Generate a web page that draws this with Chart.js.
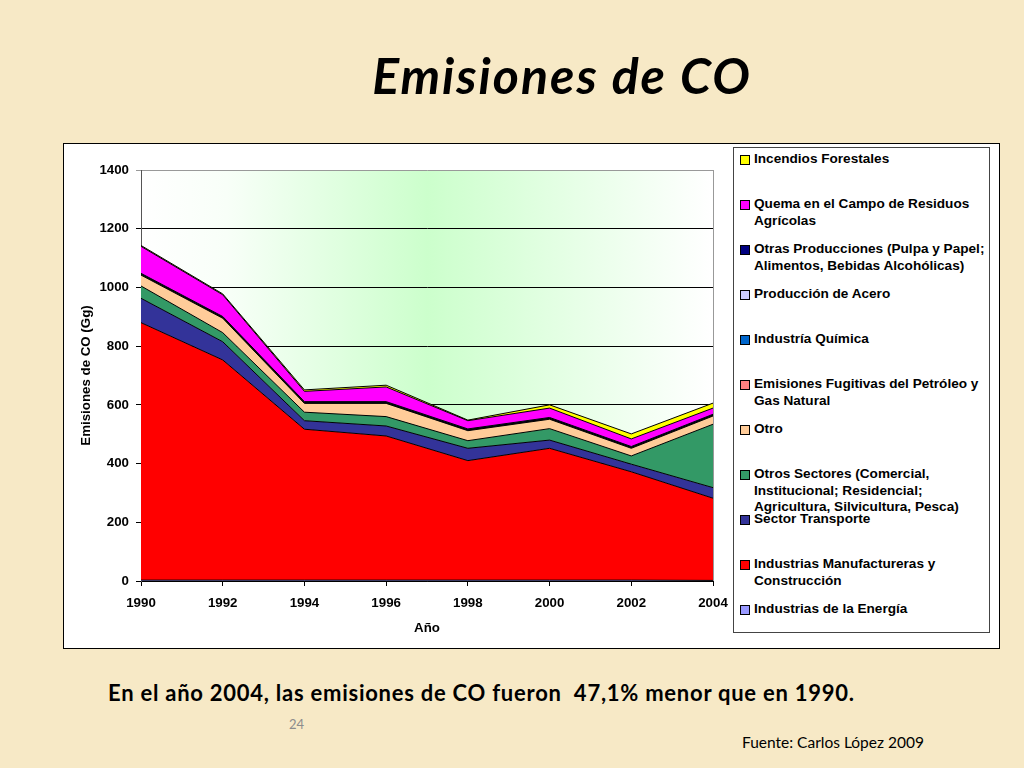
<!DOCTYPE html>
<html>
<head>
<meta charset="utf-8">
<script src="https://cdn.jsdelivr.net/npm/chart.js@4/dist/chart.umd.min.js"></script>
<style>
    body { margin:0; width:1024px; height:768px; overflow:hidden; background:#f7e9c6; position:relative; font-family:"Liberation Sans", Arial, sans-serif; }
    #title { position:absolute; left:0; width:1124px; top:45px; text-align:center; font-family:Lato, sans-serif; font-weight:bold; font-style:italic; font-size:50px; letter-spacing:2px; color:#000; }
    #box { position:absolute; left:63px; top:143px; width:935px; height:504px; border:1px solid #000; background:#fff; }
    #stats { position:absolute; left:0; top:0; }
    #legend { position:absolute; left:669px; top:3px; width:257px; height:486px; border:1px solid #444; background:#fff; box-sizing:border-box; }
    .item { position:absolute; left:6px; font-weight:bold; font-size:13.6px; line-height:16.5px; white-space:pre-line; color:#000; }
    .item i { position:absolute; left:0; top:4px; width:8px; height:8px; border:1px solid #000; }
    .item span { display:block; margin-left:14px; }
    #note { position:absolute; left:108px; top:679px; font-family:Lato, sans-serif; font-weight:bold; font-size:22px; letter-spacing:0.75px; color:#000; white-space:nowrap; }
    #page { position:absolute; left:289px; top:716px; font-family:Lato, sans-serif; font-size:13px; color:#8c8c8c; }
    #src { position:absolute; left:742px; top:733px; font-family:Lato, sans-serif; font-size:15.5px; color:#000; }
</style>
</head>
<body>
<div id="title">Emisiones de CO</div>
<div id="box">
    <canvas id="stats" width="935" height="504"></canvas>
    <div id="legend"></div>
</div>
<div id="note">En el año 2004, las emisiones de CO fueron&nbsp; 47,1% menor que en 1990.</div>
<div id="page">24</div>
<div id="src">Fuente: Carlos López 2009</div>
<script>
// valores en Gg, de abajo hacia arriba en la pila
const years = ['1990', '1992', '1994', '1996', '1998', '2000', '2002', '2004'];
const energia = [3, 3, 3, 3, 3, 3, 3, 2];
const manufactureras = [877, 750, 514, 491, 407, 449, 369, 280];
const transporte = [83, 62, 29, 34, 42, 28, 26, 36];
const otrosSectores = [42, 31, 29, 32, 26, 39, 28, 216];
const otro = [37, 49, 30, 45, 34, 32, 26, 28];
const fugitivas = [1, 1, 1, 1, 1, 1, 1, 1];
const quimica = [1, 1, 1, 1, 1, 1, 1, 1];
const acero = [0, 0, 0, 0, 0, 0, 0, 0];
const otrasProducciones = [4, 4, 4, 4, 4, 4, 4, 4];
const quema = [92, 74, 35, 50, 28, 32, 26, 21];
const incendios = [3, 3, 5, 6, 2, 11, 17, 17];
const yTicks = [0, 200, 400, 600, 800, 1000, 1200, 1400];

const series = [
    {label: 'Industrias de la Energía', color: '#9999ff', data: energia},
    {label: 'Industrias Manufactureras y\nConstrucción', color: '#ff0000', data: manufactureras},
    {label: 'Sector Transporte', color: '#333399', data: transporte},
    {label: 'Otros Sectores (Comercial,\nInstitucional; Residencial;\nAgricultura, Silvicultura, Pesca)', color: '#339966', data: otrosSectores},
    {label: 'Otro', color: '#ffcc99', data: otro},
    {label: 'Emisiones Fugitivas del Petróleo y\nGas Natural', color: '#ff8080', data: fugitivas},
    {label: 'Industría Química', color: '#0066cc', data: quimica},
    {label: 'Producción de Acero', color: '#ccccff', data: acero},
    {label: 'Otras Producciones (Pulpa y Papel;\nAlimentos, Bebidas Alcohólicas)', color: '#000080', data: otrasProducciones},
    {label: 'Quema en el Campo de Residuos\nAgrícolas', color: '#ff00ff', data: quema},
    {label: 'Incendios Forestales', color: '#ffff00', data: incendios}
];

// fondo degradado del área de trazado
const plotBg = {
    id: 'plotBg',
    beforeDraw(chart) {
        const {ctx, chartArea: a} = chart;
        const g = ctx.createLinearGradient(a.left, 0, a.right, 0);
        g.addColorStop(0, '#ffffff');
        g.addColorStop(0.15, '#f8fff8');
        g.addColorStop(0.5, '#ccffcc');
        g.addColorStop(0.85, '#f0fff0');
        g.addColorStop(1, '#ffffff');
        ctx.save();
        ctx.fillStyle = g;
        ctx.fillRect(a.left, a.top, a.right - a.left, a.bottom - a.top);
        ctx.strokeStyle = '#999';
        ctx.lineWidth = 1;
        ctx.beginPath();
        ctx.moveTo(a.right + 0.5, a.top);
        ctx.lineTo(a.right + 0.5, a.bottom);
        ctx.stroke();
        ctx.restore();
    }
};

const tickFont = {family: '"Liberation Sans", Arial, sans-serif', size: 13.3, weight: 'bold'};

const chart = new Chart(document.getElementById('stats'), {
    type: 'line',
    data: {
        labels: years,
        datasets: series.map((s, i) => ({
            label: s.label,
            data: s.data,
            backgroundColor: s.color,
            borderColor: '#000',
            borderWidth: 1,
            pointRadius: 0,
            tension: 0,
            fill: i == 0 ? 'origin' : '-1'
        }))
    },
    options: {
        responsive: false,
        animation: false,
        layout: {padding: {top: 26, right: 286, left: 0, bottom: 0}},
        plugins: {legend: {display: false}, tooltip: {enabled: false}},
        scales: {
            x: {
                offset: false,
                grid: {drawOnChartArea: false, drawTicks: true, tickLength: 5, color: '#000'},
                border: {color: '#000'},
                ticks: {color: '#000', font: tickFont, padding: 9, maxRotation: 0},
                title: {display: true, text: 'Año', color: '#000', font: tickFont, padding: {top: 4, bottom: 12}},
                afterFit: s => { s.height = 67; }
            },
            y: {
                stacked: true,
                min: 0,
                max: 1400,
                afterBuildTicks: s => { s.ticks = yTicks.map(v => ({value: v})); },
                grid: {color: c => c.tick && c.tick.value == 1400 ? '#999' : '#000', tickLength: 5},
                border: {color: '#555'},
                ticks: {color: '#000', font: tickFont, padding: 7, callback: v => String(v)},
                title: {display: true, text: 'Emisiones de CO (Gg)', color: '#000', font: tickFont, padding: {top: 14, bottom: 4}},
                afterFit: s => { s.width = 77; }
            }
        }
    },
    plugins: [plotBg]
});

// leyenda: de arriba a abajo, igual que la pila
const legend = document.getElementById('legend');
chart.data.datasets.slice().reverse().forEach((ds, i) => {
    const el = document.createElement('div');
    el.className = 'item';
    el.style.top = (3 + i * 45) + 'px';
    const sw = document.createElement('i');
    sw.style.background = ds.backgroundColor;
    const tx = document.createElement('span');
    tx.textContent = ds.label;
    el.appendChild(sw);
    el.appendChild(tx);
    legend.appendChild(el);
});
</script>
</body>
</html>
